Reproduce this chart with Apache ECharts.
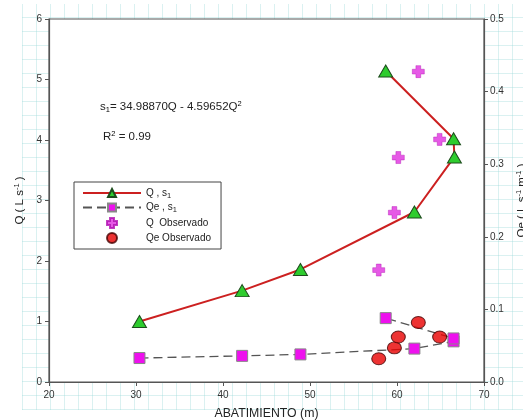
<!DOCTYPE html>
<html><head><meta charset="utf-8">
<script src="https://cdn.jsdelivr.net/npm/echarts@6/dist/echarts.min.js"></script>
<style>
html,body{margin:0;padding:0;background:#fff;}
#paper{position:absolute;left:22px;top:4px;width:501px;height:406px;
background-image:
 repeating-linear-gradient(0deg, rgba(150,215,215,0.35) 0px, rgba(150,215,215,0.35) 1px, transparent 1px, transparent 14px),
 repeating-linear-gradient(90deg, rgba(150,215,215,0.35) 0px, rgba(150,215,215,0.35) 1px, transparent 1px, transparent 14px);}
#c{position:absolute;left:0;top:0;width:523px;height:420px;}
</style></head>
<body>
<div id="paper"></div>
<div id="c"></div>
<script>
// Q , s1 (fitted)  [abatimiento, Q]
const qsS = [30.4, 42.2, 48.9, 62.0, 66.6, 66.5, 58.7];
const qsQ = [1.00, 1.51, 1.86, 2.81, 3.72, 4.02, 5.14];
// Qe , s1 (fitted) [abatimiento, Qe]
const qeS = [30.4, 42.2, 48.9, 62.0, 66.5, 66.5, 58.7];
const qeV = [0.033, 0.036, 0.038, 0.046, 0.056, 0.060, 0.088];
// Q observado
const obsS = [57.9, 59.7, 60.15, 64.9, 62.45];
const obsQ = [1.85, 2.80, 3.71, 4.01, 5.13];
// Qe observado
const obsQe = [0.032, 0.047, 0.062, 0.062, 0.082];

const xTicks = [20, 30, 40, 50, 60, 70];
const font = 'Liberation Sans, Arial, sans-serif';
const zip = (a, b) => a.map((v, i) => [v, b[i]]);

const chart = echarts.init(document.getElementById('c'), null, {renderer: 'canvas'});
const plusPath = 'path://M3,0 L7,0 L7,3 L10,3 L10,7 L7,7 L7,10 L3,10 L3,7 L0,7 L0,3 L3,3 Z';
const sub = {fontSize: 7.5, fontFamily: font, color: '#222', padding: [5, 0, 0, 0]};
const sup = {fontSize: 7.5, fontFamily: font, color: '#222', padding: [0, 0, 6, 0]};

chart.setOption({
  animation: false,
  textStyle: {fontFamily: font},
  grid: {left: 49, right: 39, top: 19, bottom: 38, show: true, backgroundColor: '#fff', borderColor: '#555', borderWidth: 1.2,
         outerBoundsMode: 'none', containLabel: false},
  legend: {
    orient: 'vertical', left: 74, top: 182,
    backgroundColor: '#fff', borderColor: '#444', borderWidth: 1,
    padding: [6, 10, 5, 8], itemGap: 3, itemWidth: 58, itemHeight: 10,
    textStyle: {fontSize: 10, color: '#222', fontFamily: font, rich: {sub: sub}},
    formatter: function (n) {
      if (n === 'Q , s1') return 'Q , s{sub|1}';
      if (n === 'Qe , s1') return 'Qe , s{sub|1}';
      return n;
    },
    data: ['Q , s1', 'Qe , s1', 'Q  Observado', 'Qe Observado']
  },
  xAxis: {
    type: 'value', min: 20, max: 70, interval: 10,
    name: 'ABATIMIENTO (m)', nameLocation: 'middle', nameGap: 26,
    nameTextStyle: {fontSize: 12.3, color: '#222', fontFamily: font},
    axisLine: {show: true, lineStyle: {color: '#555', width: 1.2}},
    axisTick: {show: true, inside: false, length: 4, lineStyle: {color: '#555'}},
    axisLabel: {fontSize: 10, color: '#333', margin: 8, formatter: v => xTicks.includes(v) ? String(v) : ''},
    splitLine: {show: false}
  },
  yAxis: [{
    type: 'value', min: 0, max: 6, interval: 1,
    name: '{t|Q ( L s}{sup|-1}{t| )}', nameLocation: 'middle', nameGap: 22, nameRotate: 90,
    nameTextStyle: {rich: {t: {fontSize: 11.5, color: '#222', fontFamily: font}, sup: sup}},
    axisLine: {show: true, lineStyle: {color: '#555', width: 1.2}},
    axisTick: {show: true, length: 4, lineStyle: {color: '#555'}},
    axisLabel: {fontSize: 10, color: '#333', margin: 7},
    splitLine: {show: false}
  }, {
    type: 'value', min: 0, max: 0.5, interval: 0.1, position: 'right',
    name: '{t|Qe ( L s}{sup|-1}{t| m}{sup|-1}{t| )}', nameLocation: 'middle', nameGap: 30, nameRotate: 90,
    nameTextStyle: {rich: {t: {fontSize: 11.5, color: '#222', fontFamily: font}, sup: sup}},
    axisLine: {show: true, lineStyle: {color: '#555', width: 1.2}},
    axisTick: {show: true, length: 4, lineStyle: {color: '#555'}},
    axisLabel: {fontSize: 10, color: '#333', margin: 6, formatter: v => v.toFixed(1)},
    splitLine: {show: false}
  }],
  graphic: [{
    type: 'text', left: 100, top: 100,
    style: {
      text: '{t|s}{sub|1}{t|= 34.98870Q - 4.59652Q}{sup|2}',
      rich: {t: {fontSize: 11.5, fontFamily: font, fill: '#222'}, sub: sub, sup: sup}
    }
  }, {
    type: 'text', left: 103, top: 130,
    style: {
      text: '{t|R}{sup|2}{t| = 0.99}',
      rich: {t: {fontSize: 11.5, fontFamily: font, fill: '#222'}, sup: sup}
    }
  }],
  series: [{
    name: 'Q , s1', type: 'line', yAxisIndex: 0,
    data: zip(qsS, qsQ),
    symbol: 'triangle', symbolSize: [14, 12],
    lineStyle: {color: '#cc2020', width: 2},
    itemStyle: {color: '#2ecc2e', borderColor: '#1d4d1d', borderWidth: 1},
    z: 3
  }, {
    name: 'Qe , s1', type: 'line', yAxisIndex: 1,
    data: zip(qeS, qeV),
    symbol: 'rect', symbolSize: [11, 11],
    lineStyle: {color: '#555', width: 1.3, type: [9, 5]},
    itemStyle: {color: '#ee10ee', borderColor: '#888', borderWidth: 1},
    z: 3
  }, {
    name: 'Q  Observado', type: 'scatter', yAxisIndex: 0,
    data: zip(obsS, obsQ),
    symbol: plusPath, symbolSize: [12, 12],
    itemStyle: {color: '#e030e0', borderColor: '#b010b0', borderWidth: 0.5},
    z: 4
  }, {
    name: 'Qe Observado', type: 'scatter', yAxisIndex: 1,
    data: zip(obsS, obsQe),
    symbol: 'circle', symbolSize: [14, 12],
    itemStyle: {color: '#e80000', borderColor: '#400', borderWidth: 1},
    z: 4
  }]
});
</script>
</body></html>
